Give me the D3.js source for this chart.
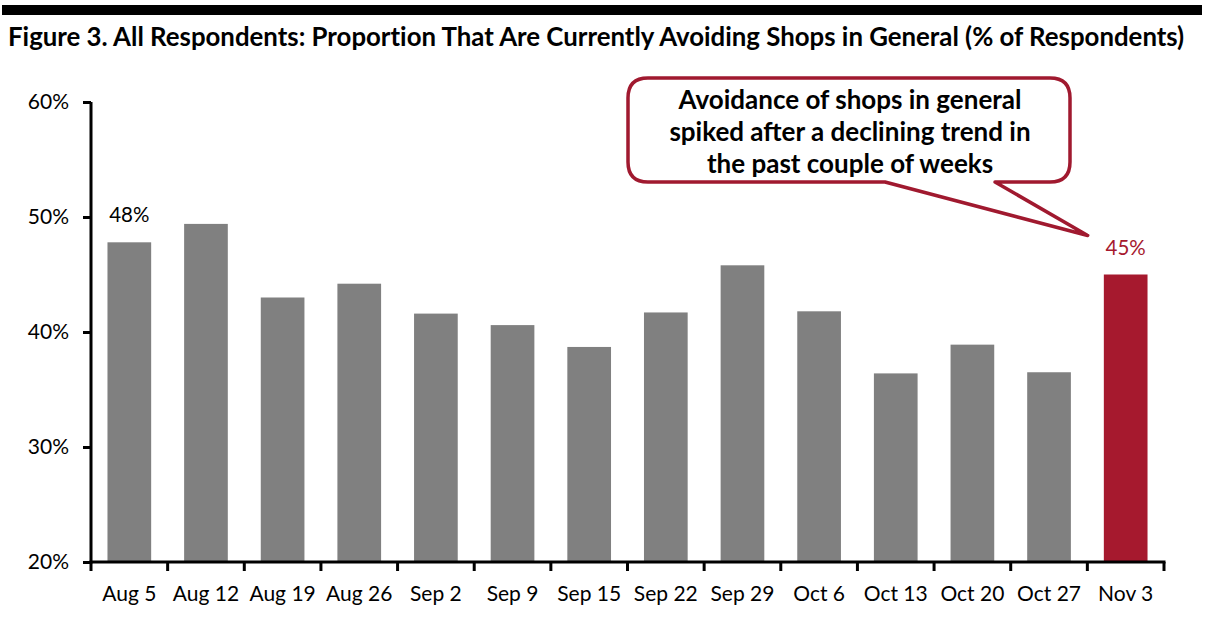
<!DOCTYPE html>
<html><head><meta charset="utf-8">
<script src="https://cdn.jsdelivr.net/npm/d3@7"></script>
<style>body{margin:0;background:#fff;} svg{display:block;font-family:Lato,"Open Sans",sans-serif;}</style>
</head><body>
<svg id="c" width="1216" height="622"></svg>
<script>
const categories = ["Aug 5","Aug 12","Aug 19","Aug 26","Sep 2","Sep 9","Sep 15","Sep 22","Sep 29","Oct 6","Oct 13","Oct 20","Oct 27","Nov 3"];
const values = [47.8,49.4,43.0,44.2,41.6,40.6,38.7,41.7,45.8,41.8,36.4,38.9,36.5,45.0];
const yTicks = [20,30,40,50,60];
const labelled = {"Aug 5":"48%","Nov 3":"45%"};
const titleText = "Figure 3. All Respondents: Proportion That Are Currently Avoiding Shops in General (% of Respondents)";
const calloutLines = ["Avoidance of shops in general","spiked after a declining trend in","the past couple of weeks"];

const gray = "#808080", red = "#A6192E";
const svg = d3.select("#c");

svg.append("rect").attr("x",2).attr("y",5).attr("width",1200).attr("height",10).attr("fill","#000");

const title = svg.append("text").attr("x",8).attr("y",46).attr("font-weight","bold")
  .attr("font-size",22).attr("fill","#000").style("font-variant-ligatures","none").text(titleText);
const tw = title.node().getComputedTextLength();
title.attr("font-size", 22*1177/tw);

const x = d3.scaleBand().domain(categories).range([91,1164]).paddingInner(0.43).paddingOuter(0.215);
const y = d3.scaleLinear().domain([20,60]).range([562,102]);

svg.append("g").selectAll("rect").data(categories).join("rect")
  .attr("x",d=>x(d)).attr("width",x.bandwidth())
  .attr("y",(d,i)=>y(values[i])).attr("height",(d,i)=>y(20)-y(values[i]))
  .attr("fill",(d,i)=>i===categories.length-1?red:gray);

const yAx = svg.append("g").attr("transform","translate(91,0)")
  .call(d3.axisLeft(y).tickValues(yTicks).tickFormat(d=>d+"%").tickSize(8).tickPadding(14));
yAx.select(".domain").attr("stroke","#000").attr("stroke-width",3).attr("d","M0,102V563.5");
yAx.selectAll(".tick line").attr("stroke","#000").attr("stroke-width",3);
yAx.selectAll(".tick text").attr("font-size",21).attr("fill","#000").attr("font-family","Lato,sans-serif");

const xAx = svg.append("g").attr("transform","translate(0,562)")
  .call(d3.axisBottom(x).tickSize(0).tickPadding(24));
xAx.select(".domain").remove();
xAx.append("line").attr("x1",89.5).attr("x2",1165.5).attr("stroke","#000").attr("stroke-width",3);
const bounds = categories.map(c=>x(c)-x.step()*x.paddingInner()/2).concat([1164]);
xAx.selectAll(".bt").data(bounds).join("line").attr("class","bt")
  .attr("x1",d=>d).attr("x2",d=>d).attr("y1",0).attr("y2",9).attr("stroke","#000").attr("stroke-width",3);
xAx.selectAll(".tick text").attr("font-size",21).attr("fill","#000").attr("font-family","Lato,sans-serif");

svg.append("g").selectAll("text").data(categories.filter(c=>labelled[c])).join("text")
  .attr("x",d=>x(d)+x.bandwidth()/2)
  .attr("y",d=>y(values[categories.indexOf(d)])-20)
  .attr("text-anchor","middle").attr("font-size",20.5)
  .attr("fill",d=>d==="Nov 3"?red:"#000").text(d=>labelled[d]);

const L=628,R=1070,T=78,B=182,r=20;
const tipX = x("Nov 3")+x.bandwidth()/2-38, tipY = y(values[13])-39;
const path = `M${L+r},${T}H${R-r}Q${R},${T} ${R},${T+r}V${B-r}Q${R},${B} ${R-r},${B}H995L${tipX},${tipY}L885,${B}H${L+r}Q${L},${B} ${L},${B-r}V${T+r}Q${L},${T} ${L+r},${T}Z`;
svg.append("path").attr("d",path).attr("fill","#fff").attr("stroke","#A0192F").attr("stroke-width",3.5).attr("stroke-linejoin","round");
const ct = svg.append("g").selectAll("text").data(calloutLines).join("text")
  .attr("x",850).attr("y",(d,i)=>109+i*32).attr("text-anchor","middle")
  .attr("font-weight","bold").attr("font-size",22).attr("fill","#000").text(d=>d);
const w0 = ct.nodes()[0].getComputedTextLength();
ct.attr("font-size", 22*343/w0);
</script>
</body></html>
